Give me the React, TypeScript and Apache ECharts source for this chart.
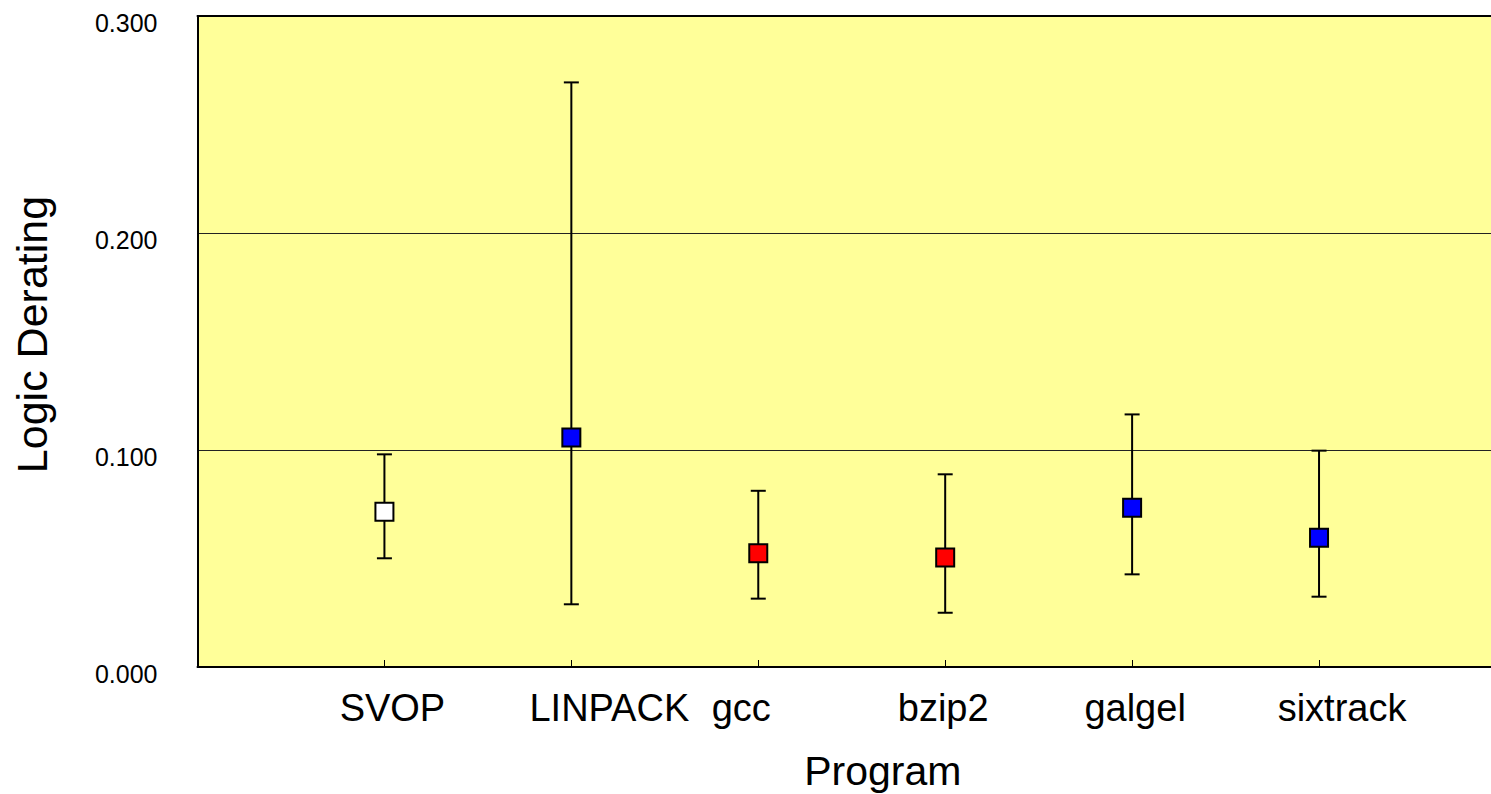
import React, { useEffect, useRef } from "react";
import * as echarts from "echarts";

const programs = ["SVOP", "LINPACK", "gcc", "bzip2", "galgel", "sixtrack"];
const derating = [0.0716, 0.1058, 0.0524, 0.0505, 0.0734, 0.0596];
const upperBound = [0.098, 0.2694, 0.0812, 0.0888, 0.1164, 0.0997];
const lowerBound = [0.0501, 0.0289, 0.0315, 0.025, 0.0427, 0.0324];
const markerColors = ["#FFFFFF", "#0000FF", "#FF0000", "#FF0000", "#0000FF", "#0000FF"];
const yTicks = [0, 0.1, 0.2, 0.3];

// label horizontal shifts (px), styling only
const labelShift = [8, 38, -17, -2, 3, 23];

const FONT = "'Liberation Sans', Arial, sans-serif";

export default function App() {
  const ref = useRef<HTMLDivElement>(null);

  useEffect(() => {
    if (!ref.current) return;
    const chart = echarts.init(ref.current, null, { renderer: "svg" });

    const rich: Record<string, any> = {};
    programs.forEach((p, i) => {
      const s = labelShift[i];
      rich["c" + i] = {
        fontFamily: FONT,
        fontSize: 38,
        color: "#000",
        padding: s >= 0 ? [0, 0, 0, 2 * s] : [0, 2 * -s, 0, 0],
      };
    });

    const xMax = 6.92;

    chart.setOption({
      animation: false,
      backgroundColor: "#FFFFFF",
      grid: {
        left: 197.5,
        right: 0,
        top: 16,
        bottom: 127,
        show: true,
        backgroundColor: "#FFFF99",
        borderWidth: 0,
        containLabel: false,
        outerBoundsMode: "none",
      },
      xAxis: [
        {
          type: "value",
          min: 0,
          max: xMax,
          interval: 1,
          position: "bottom",
          name: "Program",
          nameLocation: "middle",
          nameGap: 83,
          nameTextStyle: {
            fontFamily: FONT,
            fontSize: 41,
            color: "#000",
            padding: [0, 0, 0, 77],
          },
          axisLine: { show: true, lineStyle: { color: "#000", width: 2 } },
          axisTick: { show: true, inside: true, length: 7, lineStyle: { color: "#000", width: 1 } },
          splitLine: { show: false },
          axisLabel: {
            margin: 22,
            showMaxLabel: false,
            formatter: (v: number) => {
              const i = Math.round(v) - 1;
              if (Math.abs(v - Math.round(v)) > 1e-6 || i < 0 || i >= programs.length) return "";
              return "{c" + i + "|" + programs[i] + "}";
            },
            rich,
          },
        },
        {
          type: "value",
          min: 0,
          max: xMax,
          position: "top",
          axisLine: { show: true, lineStyle: { color: "#000", width: 2 } },
          axisTick: { show: false },
          axisLabel: { show: false },
          splitLine: { show: false },
        },
      ],
      yAxis: {
        type: "value",
        min: yTicks[0],
        max: yTicks[yTicks.length - 1],
        interval: 0.1,
        name: "Logic Derating",
        nameLocation: "middle",
        nameGap: 144,
        nameTextStyle: {
          fontFamily: FONT,
          fontSize: 43,
          color: "#000",
          padding: [0, 0, 0, 14],
        },
        axisLine: { show: true, lineStyle: { color: "#000", width: 2 } },
        axisTick: { show: false },
        splitLine: { show: true, lineStyle: { color: "#222", width: 1 } },
        axisLabel: {
          margin: 40,
          fontFamily: FONT,
          fontSize: 25,
          color: "#000",
          verticalAlign: "top",
          lineHeight: 13,
          formatter: (v: number) => v.toFixed(3),
        },
      },
      series: [
        {
          type: "custom",
          xAxisIndex: 0,
          z: 2,
          data: programs.map((_, i) => [i + 1, lowerBound[i], upperBound[i]]),
          renderItem: (params: any, api: any) => {
            const x = api.value(0);
            const lo = api.coord([x, api.value(1)]);
            const hi = api.coord([x, api.value(2)]);
            const half = 7.5;
            const style = { stroke: "#000", lineWidth: 2 };
            return {
              type: "group",
              children: [
                { type: "line", shape: { x1: lo[0], y1: lo[1], x2: hi[0], y2: hi[1] }, style },
                { type: "line", shape: { x1: lo[0] - half, y1: lo[1], x2: lo[0] + half, y2: lo[1] }, style },
                { type: "line", shape: { x1: hi[0] - half, y1: hi[1], x2: hi[0] + half, y2: hi[1] }, style },
              ],
            };
          },
        },
        {
          type: "scatter",
          xAxisIndex: 0,
          z: 3,
          symbol: "rect",
          symbolSize: 18,
          data: programs.map((_, i) => ({
            value: [i + 1, derating[i]],
            itemStyle: { color: markerColors[i], borderColor: "#000", borderWidth: 2, opacity: 1 },
          })),
        },
      ],
    });

    return () => chart.dispose();
  }, []);

  return (
    <div
      ref={ref}
      style={{ position: "fixed", left: 0, top: 0, width: 1491, height: 794 }}
    />
  );
}
